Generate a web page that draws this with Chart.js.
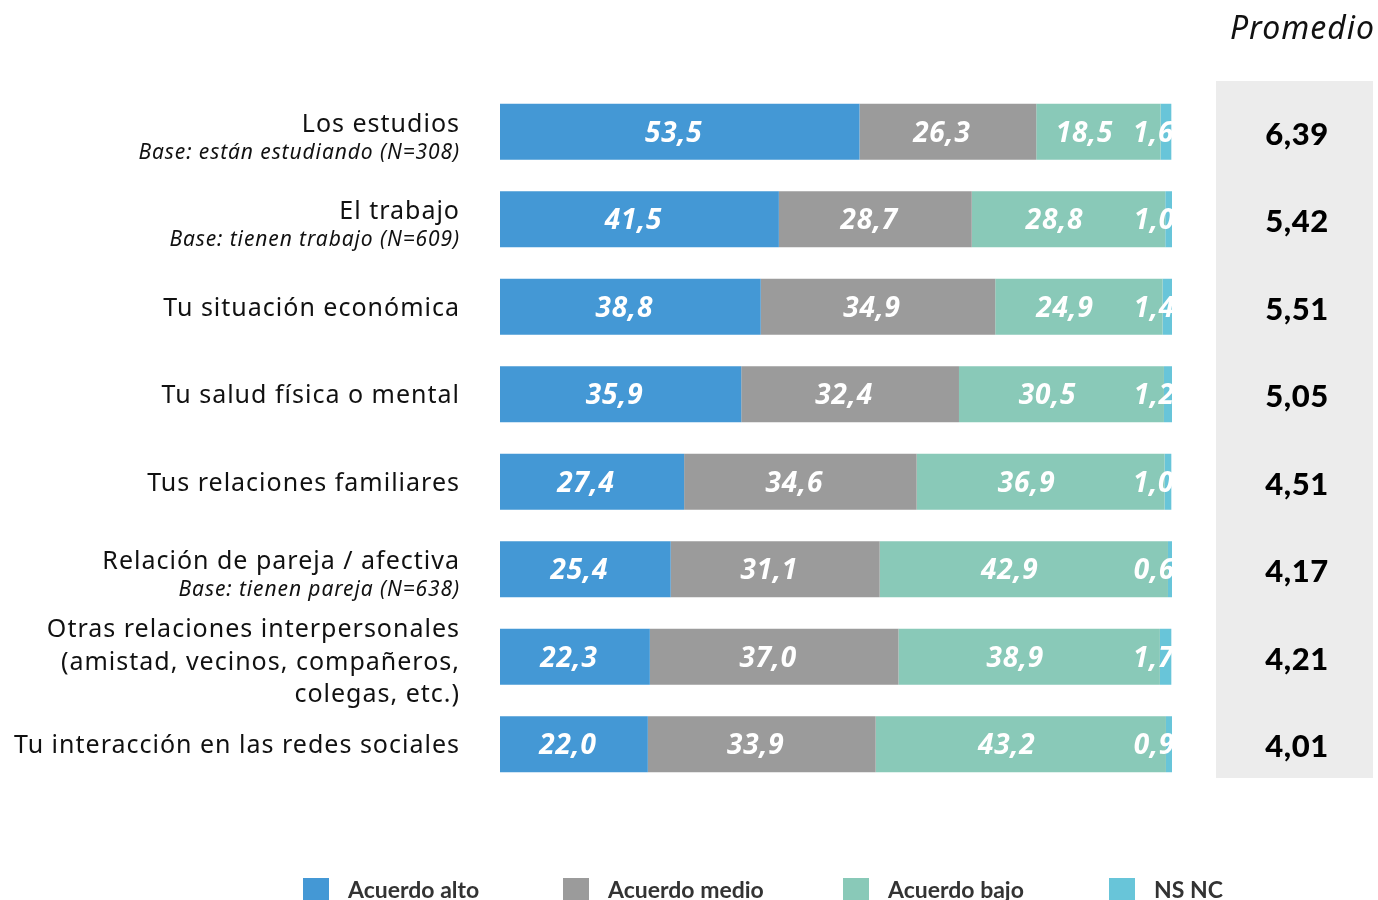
<!DOCTYPE html>
<html>
<head>
<meta charset="utf-8">
<script src="https://cdn.jsdelivr.net/npm/chart.js@4"></script>
<style>
  html, body { margin: 0; padding: 0; background: #fff; }
  #wrap { width: 1378px; height: 900px; }
</style>
</head>
<body>
<div id="wrap"><canvas id="chart"></canvas></div>
<script>
// categorias (linea principal + base opcional)
const categories = [
  'Los estudios',
  'El trabajo',
  'Tu situación económica',
  'Tu salud física o mental',
  'Tus relaciones familiares',
  'Relación de pareja / afectiva',
  'Otras relaciones interpersonales|(amistad, vecinos, compañeros,|colegas, etc.)',
  'Tu interacción en las redes sociales'
];
const baseNotes = [
  'Base: están estudiando (N=308)',
  'Base: tienen trabajo (N=609)',
  '', '', '',
  'Base: tienen pareja (N=638)',
  '', ''
];

const acuerdoAlto  = [53.5, 41.5, 38.8, 35.9, 27.4, 25.4, 22.3, 22.0];
const acuerdoMedio = [26.3, 28.7, 34.9, 32.4, 34.6, 31.1, 37.0, 33.9];
const acuerdoBajo  = [18.5, 28.8, 24.9, 30.5, 36.9, 42.9, 38.9, 43.2];
const nsnc         = [1.6, 1.0, 1.4, 1.2, 1.0, 0.6, 1.7, 0.9];
const promedio     = [6.39, 5.42, 5.51, 5.05, 4.51, 4.17, 4.21, 4.01];

const seriesNames  = ['Acuerdo alto', 'Acuerdo medio', 'Acuerdo bajo', 'NS NC'];
const seriesColors = ['#4498d5', '#9b9b9b', '#89c9b8', '#68c5d9'];

const FONT = '"Noto Sans", Lato, sans-serif';
const LATO = 'Lato, "Noto Sans", sans-serif';
const fmt = v => v.toFixed(1).replace('.', ',');

// desplazamiento horizontal de cada etiqueta respecto al centro del tramo
const labelShift = [-6, -6, -14];

// etiquetas, promedios y leyenda
const extrasPlugin = {
  id: 'extras',
  beforeDatasetsDraw(chart) {
    const ctx = chart.ctx;
    ctx.save();
    ctx.fillStyle = '#ececec';
    ctx.fillRect(1216, 81, 157, 697);
    ctx.restore();
  },
  afterDatasetsDraw(chart) {
    const ctx = chart.ctx;
    const y = chart.scales.y;
    ctx.save();

    // valores dentro de las barras
    ctx.fillStyle = '#fff';
    ctx.font = 'italic bold 28px ' + FONT;
    ctx.letterSpacing = '0.8px';
    ctx.textBaseline = 'middle';
    chart.data.datasets.forEach((ds, di) => {
      const meta = chart.getDatasetMeta(di);
      meta.data.forEach((bar, i) => {
        const v = ds.data[i];
        if (di === 3) {
          ctx.textAlign = 'right';
          ctx.fillText(fmt(v), bar.x + 3, bar.y + 2);
        } else {
          ctx.textAlign = 'center';
          const cx = (bar.base + bar.x) / 2 + labelShift[di];
          ctx.fillText(fmt(v), cx, bar.y + 2);
        }
      });
    });

    // etiquetas del eje
    ctx.fillStyle = '#111';
    ctx.textAlign = 'right';
    categories.forEach((c, i) => {
      const cy = y.getPixelForValue(i);
      const lines = c.split('|');
      const note = baseNotes[i];
      ctx.font = '25px ' + FONT;
      ctx.letterSpacing = '1px';
      if (note) {
        ctx.fillText(lines[0], 460, cy - 7);
        ctx.font = 'italic 21px ' + FONT;
        ctx.letterSpacing = '0.9px';
        ctx.fillText(note, 460, cy + 21);
      } else if (lines.length > 1) {
        const lh = 32.5;
        lines.forEach((l, k) => {
          ctx.fillText(l, 460, cy + 6 + (k - (lines.length - 1) / 2) * lh);
        });
      } else {
        ctx.fillText(lines[0], 460, cy + 2);
      }
    });

    // promedio
    ctx.font = 'italic 32px ' + FONT;
    ctx.letterSpacing = '1px';
    ctx.fillStyle = '#111';
    ctx.textAlign = 'right';
    ctx.fillText('Promedio', 1375, 30);
    ctx.letterSpacing = '0.5px';
    ctx.font = '900 31px ' + LATO;
    ctx.fillStyle = '#000';
    ctx.textAlign = 'center';
    promedio.forEach((p, i) => {
      ctx.fillText(p.toFixed(2).replace('.', ','), 1297, y.getPixelForValue(i) + 3);
    });
    ctx.letterSpacing = '0px';

    // leyenda
    const legendX = [303, 563, 843, 1109];
    ctx.font = 'bold 23px ' + LATO;
    ctx.textAlign = 'left';
    seriesNames.forEach((n, k) => {
      ctx.fillStyle = seriesColors[k];
      ctx.fillRect(legendX[k], 878, 26, 24);
      ctx.fillStyle = '#333';
      ctx.fillText(n, legendX[k] + 45, 891);
    });
    ctx.restore();
  }
};

const datasets = [acuerdoAlto, acuerdoMedio, acuerdoBajo, nsnc].map((d, k) => ({
  label: seriesNames[k],
  data: d,
  backgroundColor: seriesColors[k],
  borderWidth: 0,
  barPercentage: 0.64,
  categoryPercentage: 1
}));

new Chart(document.getElementById('chart'), {
  type: 'bar',
  data: { labels: categories, datasets: datasets },
  options: {
    indexAxis: 'y',
    responsive: true,
    maintainAspectRatio: false,
    animation: false,
    layout: { padding: { left: 500, right: 1378 - 1172, top: 88, bottom: 112 } },
    plugins: { legend: { display: false }, tooltip: { enabled: false } },
    scales: {
      x: { stacked: true, min: 0, max: 100, display: false },
      y: { stacked: true, display: false }
    }
  },
  plugins: [extrasPlugin]
});
</script>
</body>
</html>
